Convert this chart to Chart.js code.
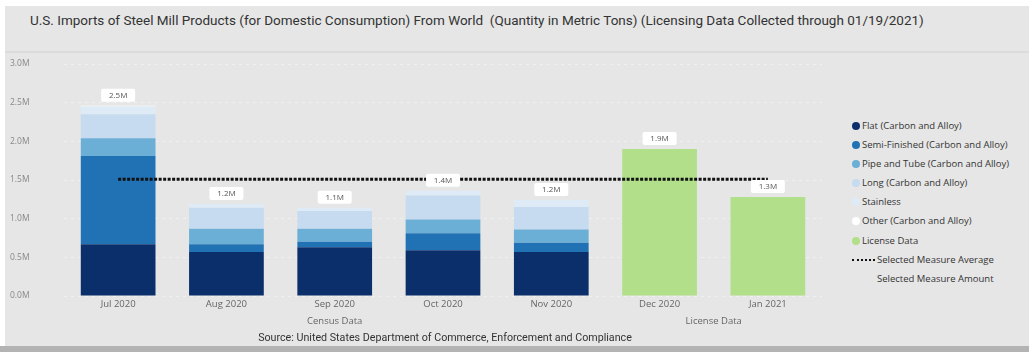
<!DOCTYPE html>
<html>
<head>
<meta charset="utf-8">
<script src="https://cdn.jsdelivr.net/npm/chart.js@4.4.1/dist/chart.umd.min.js"></script>
<style>
  html, body { margin: 0; padding: 0; background: #fff; }
  #wrap { position: relative; width: 1029px; height: 352px; overflow: hidden; background: #fff; }
  #panel { position: absolute; left: 5px; top: 6px; width: 1024px; height: 340px; background: #e6e6e6; }
  #bottombar { position: absolute; left: 0; top: 346px; width: 1029px; height: 6px; background: #b3b3b3; }
  #head { position: absolute; left: 5px; top: 6px; width: 1024px; height: 45px; border-bottom: 2px solid #dcdcdc; }
  #title { position: absolute; left: 30px; top: 12px; font-family: Roboto, sans-serif; font-size: 13.5px; color: #333; white-space: nowrap; }
  #source { position: absolute; left: 445px; top: 331px; transform: translateX(-50%); font-family: Roboto, sans-serif; font-size: 10.7px; color: #333; white-space: nowrap; }
  #c { position: absolute; left: 0; top: 52px; }
  #legend { position: absolute; left: 852px; top: 116px; font-family: "Open Sans", sans-serif; font-size: 9.5px; color: #333; }
  .item { height: 19.1px; line-height: 19.1px; white-space: nowrap; position: relative; padding-left: 10px; }
  .dot { position: absolute; left: 0; top: 6px; width: 8px; height: 8px; border-radius: 50%; }
  .dash { position: absolute; left: 0; top: 9px; width: 23px; border-top: 2px dotted #111; }
</style>
</head>
<body>
<div id="wrap">
  <div id="panel"></div>
  <div id="head"></div>
  <div id="bottombar"></div>
  <div id="title">U.S. Imports of Steel Mill Products (for Domestic Consumption) From World&nbsp; (Quantity in Metric Tons) (Licensing Data Collected through 01/19/2021)</div>
  <canvas id="c" width="840" height="280"></canvas>
  <div id="legend"></div>
  <div id="source">Source: United States Department of Commerce, Enforcement and Compliance</div>
</div>
<script>
var months = ["Jul 2020", "Aug 2020", "Sep 2020", "Oct 2020", "Nov 2020", "Dec 2020", "Jan 2021"];
var groups = [
  { label: "Census Data", from: 0, to: 4 },
  { label: "License Data", from: 5, to: 6 }
];

// metric tons per product (census months), null for license months
var flat      = [670000, 570000, 630000, 590000, 570000, null, null];
var semi      = [1140000, 100000, 70000, 220000, 120000, null, null];
var pipe      = [230000, 200000, 170000, 180000, 170000, null, null];
var longProd  = [310000, 270000, 230000, 310000, 290000, null, null];
var stainless = [100000, 50000, 40000, 60000, 90000, null, null];
var other     = [10000, 0, 0, 0, 0, null, null];
var license   = [null, null, null, null, null, 1900000, 1280000];

var yTicks = { min: 0, max: 3000000, step: 500000 };

var seriesNames = [
  "Flat (Carbon and Alloy)",
  "Semi-Finished (Carbon and Alloy)",
  "Pipe and Tube (Carbon and Alloy)",
  "Long (Carbon and Alloy)",
  "Stainless",
  "Other (Carbon and Alloy)",
  "License Data"
];
var colors = ["#0b2f6b", "#2171b5", "#6baed6", "#c6dbef", "#deebf7", "#ffffff", "#b2df8a"];
var seriesData = [flat, semi, pipe, longProd, stainless, other, license];

// total per month and the average across months
var totals = [];
for (var i = 0; i < months.length; i++) {
  var t = 0;
  for (var s = 0; s < seriesData.length; s++) {
    if (seriesData[s][i] != null) t += seriesData[s][i];
  }
  totals.push(t);
}
var avg = totals.reduce(function(a, b) { return a + b; }, 0) / totals.length;
var avgLine = months.map(function() { return avg; });

function fmtM(v) {
  return (v / 1000000).toFixed(1) + "M";
}

var datasets = [];
for (var s = 0; s < seriesData.length; s++) {
  datasets.push({
    type: "bar",
    label: seriesNames[s],
    data: seriesData[s],
    backgroundColor: colors[s],
    borderWidth: 0,
    stack: "imports",
    order: 2,
    categoryPercentage: 1,
    barPercentage: 0.69
  });
}
datasets.push({
  type: "line",
  label: "Selected Measure Average",
  data: avgLine,
  borderColor: "#111",
  borderWidth: 3,
  borderDash: [3, 1.5],
  pointRadius: 0,
  fill: false,
  order: 1
});

// white boxes with totals above each bar
var totalLabels = {
  id: "totalLabels",
  afterDatasetsDraw: function(chart) {
    var ctx = chart.ctx;
    var xs = chart.scales.x, ys = chart.scales.y;
    ctx.save();
    ctx.font = "8px 'Open Sans'";
    ctx.textAlign = "center";
    ctx.textBaseline = "middle";
    for (var i = 0; i < totals.length; i++) {
      var x = xs.getPixelForValue(i);
      var y = ys.getPixelForValue(totals[i]);
      var w = 34, h = 13;
      ctx.fillStyle = "#fff";
      ctx.beginPath();
      ctx.roundRect(x - w / 2, y - 4 - h, w, h, 2);
      ctx.fill();
      ctx.fillStyle = "#555";
      ctx.fillText(fmtM(totals[i]), x, y - 4 - h / 2 + 0.5);
    }
    ctx.restore();
  }
};

// group titles under the month labels
var groupLabels = {
  id: "groupLabels",
  afterDraw: function(chart) {
    var ctx = chart.ctx;
    var xs = chart.scales.x;
    ctx.save();
    ctx.font = "9.5px 'Open Sans'";
    ctx.fillStyle = "#666";
    ctx.textAlign = "center";
    ctx.textBaseline = "middle";
    groups.forEach(function(g) {
      var x = (xs.getPixelForValue(g.from) + xs.getPixelForValue(g.to)) / 2;
      ctx.fillText(g.label, x, chart.chartArea.bottom + 25);
    });
    ctx.restore();
  }
};

var config = {
  type: "bar",
  data: { labels: months, datasets: datasets },
  options: {
    responsive: false,
    animation: false,
    layout: { padding: { left: 10, top: 12, right: 18, bottom: 0 } },
    plugins: { legend: { display: false }, tooltip: { enabled: false } },
    scales: {
      x: {
        stacked: true,
        grid: { display: false, drawTicks: false },
        border: { display: false },
        ticks: { color: "#666", font: { family: "Open Sans", size: 9.5 }, padding: 3, maxRotation: 0 },
        afterFit: function(scale) { scale.height = 36; }
      },
      y: {
        stacked: true,
        min: yTicks.min,
        max: yTicks.max,
        grid: { color: "rgba(255,255,255,0.4)", drawTicks: false, lineWidth: 1 },
        border: { display: false, dash: [3, 4] },
        ticks: {
          stepSize: yTicks.step,
          crossAlign: "far",
          color: "#888",
          font: { family: "Open Sans", size: 8.5 },
          callback: function(v) { return fmtM(v); }
        },
        afterFit: function(scale) { scale.width = 54; }
      }
    }
  },
  plugins: [totalLabels, groupLabels]
};

var ctx = document.getElementById("c");
window.myChart = new Chart(ctx, config);

// legend
var legend = document.getElementById("legend");
var html = "";
for (var s = 0; s < seriesNames.length; s++) {
  html += '<div class="item"><span class="dot" style="background:' + colors[s] + '"></span>' + seriesNames[s] + '</div>';
}
html += '<div class="item" style="padding-left:25px"><span class="dash"></span>Selected Measure Average</div>';
html += '<div class="item" style="padding-left:25px">Selected Measure Amount</div>';
legend.innerHTML = html;
</script>
</body>
</html>
